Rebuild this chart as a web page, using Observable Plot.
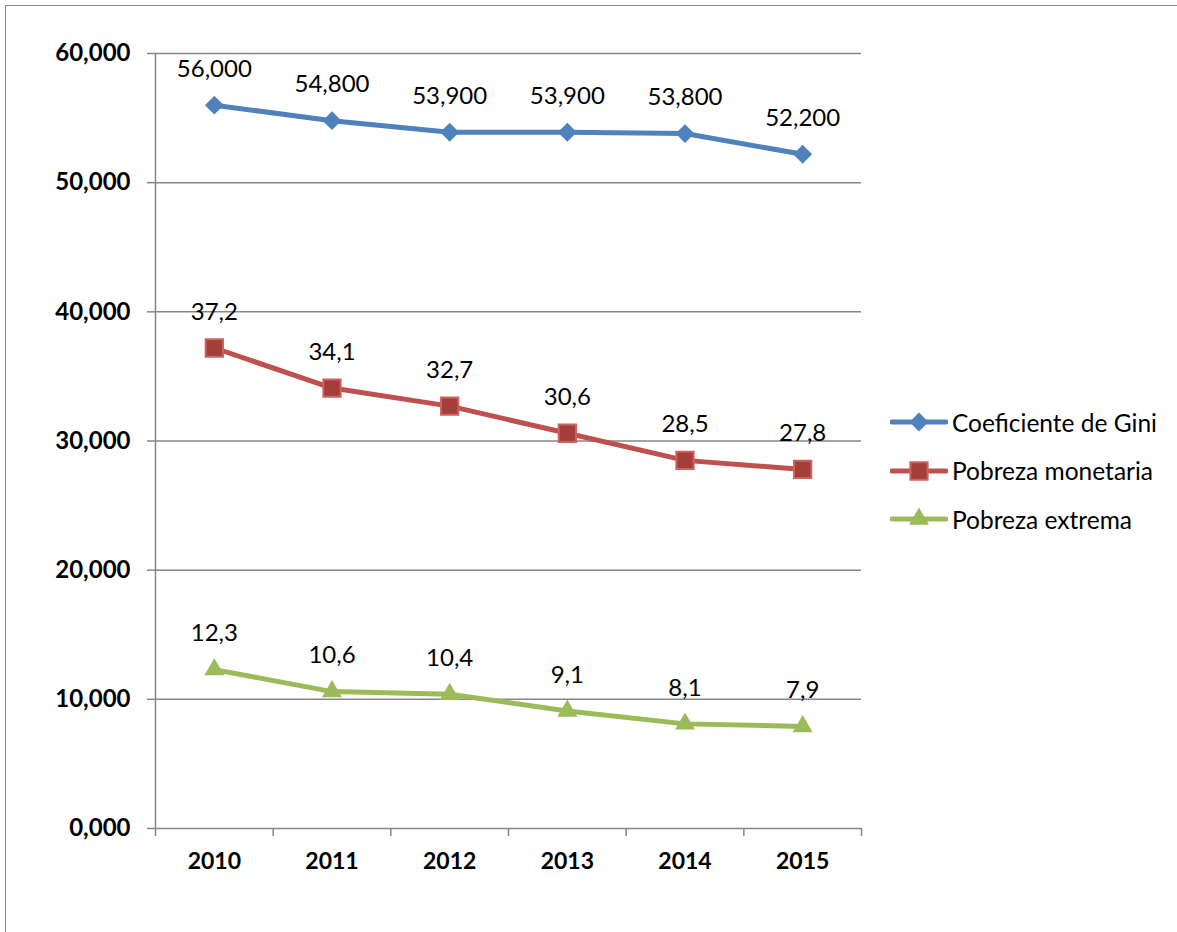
<!DOCTYPE html>
<html><head><meta charset="utf-8">
<script src="https://cdn.jsdelivr.net/npm/d3@7"></script>
<script src="https://cdn.jsdelivr.net/npm/@observablehq/plot@0.6"></script>
<style>
body{margin:0;background:#fff;font-family:Lato, sans-serif}
#wrap{position:relative;width:1177px;height:932px;overflow:hidden;background:#fff}
#frame{position:absolute;left:5px;top:5px;width:1300px;height:1100px;border:1.5px solid #8e8e8e}
#chart{position:absolute;left:0;top:0}
#legend{position:absolute;left:890px;top:398px}
.item{display:flex;align-items:center;height:48.5px;font-size:24.5px;color:#000}
.item svg{margin-right:4px}
</style></head>
<body>
<div id="wrap"><div id="frame"></div><div id="chart"></div><div id="legend"></div></div>
<script>
const years = [2010, 2011, 2012, 2013, 2014, 2015];
const gini = [56.0, 54.8, 53.9, 53.9, 53.8, 52.2];
const pobrezaMonetaria = [37.2, 34.1, 32.7, 30.6, 28.5, 27.8];
const pobrezaExtrema = [12.3, 10.6, 10.4, 9.1, 8.1, 7.9];
const seriesNames = ["Coeficiente de Gini", "Pobreza monetaria", "Pobreza extrema"];
const labelDecimals = [3, 1, 1];
const yTicks = [0, 10, 20, 30, 40, 50, 60];

const colors = ["#4F81BD", "#C0504D", "#9BBB59"];
const symbols = ["diamond2", "square2", "triangle2"];
const fills = ["#4F81BD", "#A33E3B", "#9BBB59"];
const strokes = ["#4F81BD", "#CD6360", "#9BBB59"];
const radii = [8.5, 11, 9.5];

const allSeries = [gini, pobrezaMonetaria, pobrezaExtrema];
const data = [];
allSeries.forEach((vals, s) => vals.forEach((v, i) => data.push({
  series: seriesNames[s], s, year: years[i], value: v,
  label: v.toFixed(labelDecimals[s]).replace(".", ",")
})));

const boundaries = [...years.map(y => y - 0.5), years[years.length - 1] + 0.5];
const comma3 = d => d.toFixed(3).replace(".", ",");

const plot = Plot.plot({
  width: 1177, height: 932,
  marginLeft: 155, marginRight: 316, marginTop: 53, marginBottom: 104,
  style: {fontFamily: "Lato, sans-serif", background: "transparent"},
  x: {type: "linear", domain: [boundaries[0], boundaries[boundaries.length - 1]], label: null},
  y: {domain: [0, 60], label: null},
  marks: [
    Plot.ruleY(yTicks, {stroke: "#868686", strokeWidth: 1.5}),
    Plot.ruleX([boundaries[0]], {stroke: "#868686", strokeWidth: 1.5}),
    Plot.axisY({ticks: yTicks, tickSize: 8, tickPadding: 17, tickFormat: comma3, label: null,
      stroke: "#868686", fill: "#000", fontSize: 24, fontWeight: "bold", strokeWidth: 1.5}),
    Plot.axisX({ticks: boundaries, tickSize: 8, tickFormat: () => "", label: null,
      stroke: "#868686", strokeWidth: 1.5}),
    Plot.axisX({ticks: years, tickSize: 0, tickPadding: 24, tickFormat: d => String(d), label: null,
      fill: "#000", fontSize: 23, fontWeight: "bold"}),
    ...seriesNames.map((name, s) => Plot.line(data.filter(d => d.s === s),
      {x: "year", y: "value", stroke: colors[s], strokeWidth: 5})),
    ...seriesNames.map((name, s) => Plot.dot(data.filter(d => d.s === s),
      {x: "year", y: "value", symbol: () => symbols[s], r: radii[s], fill: fills[s],
       stroke: strokes[s], strokeWidth: s === 1 ? 2 : 0})),
    Plot.text(data, {x: "year", y: "value", text: "label", dy: -36, fontSize: 24, fill: "#000"})
  ]
});
document.getElementById("chart").appendChild(plot);

const legend = d3.select("#legend");
seriesNames.forEach((name, s) => {
  const item = legend.append("div").attr("class", "item");
  const svg = item.append("svg").attr("width", 58).attr("height", 30);
  svg.append("line").attr("x1", 2).attr("x2", 56).attr("y1", 15).attr("y2", 15)
    .attr("stroke", colors[s]).attr("stroke-width", 5).attr("stroke-linecap", "round");
  const size = Math.PI * radii[s] * radii[s];
  const sym = {diamond2: d3.symbolDiamond2, square2: d3.symbolSquare2, triangle2: d3.symbolTriangle2}[symbols[s]];
  svg.append("path").attr("transform", "translate(29,15)")
    .attr("d", d3.symbol(sym, size)())
    .attr("fill", fills[s]).attr("stroke", strokes[s]).attr("stroke-width", s === 1 ? 2 : 0);
  item.append("span").text(name);
});
</script>
</body></html>
